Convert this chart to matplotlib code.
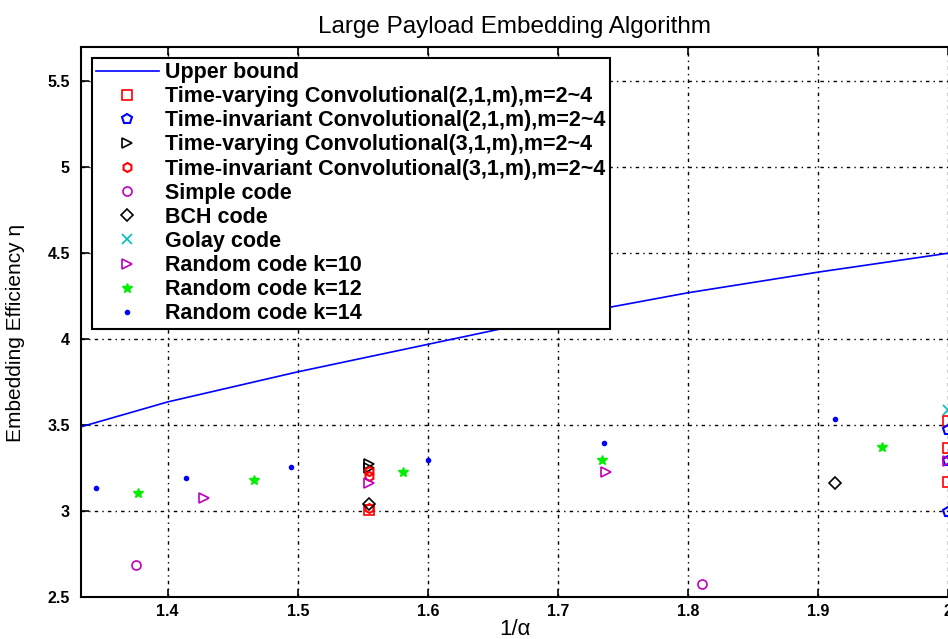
# Large payload embedding - efficiency vs 1/alpha
import numpy as np
import matplotlib
matplotlib.use("Agg")
import matplotlib.pyplot as plt

plt.rcParams['font.family'] = ['Liberation Sans', 'DejaVu Sans']

# upper bound
ub_x = [1.3333, 1.4, 1.5, 1.6, 1.7, 1.75, 1.8, 1.9, 2.0]
ub_y = [3.49, 3.635, 3.81, 3.97, 4.13, 4.20, 4.27, 4.39, 4.50]

# time-varying convolutional (2,1,m)
tv21_x = [1.555, 2.0, 2.0, 2.0]
tv21_y = [3.005, 3.526, 3.365, 3.17]
# time-invariant convolutional (2,1,m)
ti21_x = [2.0, 2.0, 2.0]
ti21_y = [3.473, 3.29, 2.995]
# time-varying convolutional (3,1,m)
tv31_x = [1.555, 1.555]
tv31_y = [3.272, 3.25]
# time-invariant convolutional (3,1,m)
ti31_x = [1.555, 1.555, 1.555]
ti31_y = [3.235, 3.205, 3.02]
# simple code
simple_x = [1.376, 1.811]
simple_y = [2.686, 2.577]
# BCH code
bch_x = [1.555, 1.913]
bch_y = [3.04, 3.162]
# Golay code
golay_x = [2.0]
golay_y = [3.589]
# random codes
r10_x = [1.428, 1.555, 1.737, 2.0]
r10_y = [3.074, 3.165, 3.23, 3.29]
r12_x = [1.377, 1.466, 1.581, 1.734, 1.949]
r12_y = [3.107, 3.18, 3.228, 3.30, 3.371]
r14_x = [1.345, 1.4137, 1.495, 1.6005, 1.7357, 1.913]
r14_y = [3.137, 3.19, 3.254, 3.30, 3.394, 3.536]

fig = plt.figure(figsize=(9.48, 6.39), dpi=100)
ax = fig.add_axes([81/948, 42/639, 867/948, 550/639])

ms = 6.5
ax.plot(ub_x, ub_y, 'b-', lw=1.2, label='Upper bound')
ax.plot(tv21_x, tv21_y, 's', mfc='none', mec='r', ms=ms, mew=1.2, ls='none',
        label='Time-varying Convolutional(2,1,m),m=2~4')
ax.plot(ti21_x, ti21_y, 'p', mfc='none', mec='b', ms=ms + 1, mew=1.5, ls='none',
        label='Time-invariant Convolutional(2,1,m),m=2~4')
ax.plot(tv31_x, tv31_y, '>', mfc='none', mec='k', ms=ms, mew=1.2, ls='none',
        label='Time-varying Convolutional(3,1,m),m=2~4')
ax.plot(ti31_x, ti31_y, 'h', mfc='none', mec='r', ms=ms, mew=1.5, ls='none',
        label='Time-invariant Convolutional(3,1,m),m=2~4')
ax.plot(simple_x, simple_y, 'o', mfc='none', mec='m', ms=ms, mew=1.2, ls='none',
        label='Simple code')
ax.plot(bch_x, bch_y, 'D', mfc='none', mec='k', ms=ms - 0.5, mew=1.2, ls='none',
        label='BCH code')
ax.plot(golay_x, golay_y, 'x', color='c', ms=ms, mew=1.2, ls='none',
        label='Golay code')
ax.plot(r10_x, r10_y, '>', mfc='none', mec='m', ms=ms + 1, mew=1.2, ls='none',
        label='Random code k=10')
ax.plot(r12_x, r12_y, '*', color='#00ee00', ms=ms + 1, mew=1.0, ls='none',
        label='Random code k=12')
ax.plot(r14_x, r14_y, '.', color='b', ms=ms - 0.5, ls='none',
        label='Random code k=14')

ax.set_xlim(4/3, 2.0)
ax.set_ylim(2.5, 5.7)
ax.set_xticks([1.4, 1.5, 1.6, 1.7, 1.8, 1.9, 2.0])
ax.set_xticklabels(['1.4', '1.5', '1.6', '1.7', '1.8', '1.9', '2'])
ax.set_yticks([2.5, 3, 3.5, 4, 4.5, 5, 5.5])
ax.set_yticklabels(['2.5', '3', '3.5', '4', '4.5', '5', '5.5'])
ax.tick_params(direction='in', top=True, right=False, length=6, width=1.2,
               labelsize=11.5)
ax.tick_params(axis='x', pad=5)
ax.tick_params(axis='y', pad=8)
for lab in ax.get_xticklabels() + ax.get_yticklabels():
    lab.set_fontweight('bold')
ax.grid(True, color='k', lw=1.0, linestyle=(0, (2.5, 3, 1, 3)))
for s in ['left', 'bottom', 'top']:
    ax.spines[s].set_linewidth(1.5)
ax.spines['right'].set_visible(False)

ax.set_title('Large Payload Embedding Algorithm', fontsize=17.5, pad=10)
ax.set_xlabel('1/α', fontsize=16, labelpad=0)
ax.set_ylabel('Embedding Efficiency η', fontsize=15, labelpad=4)
ax.yaxis.set_label_coords(-0.065, 0.48)

leg = ax.legend(loc='upper left', frameon=True, fancybox=False,
                prop={'size': 15.5, 'weight': 'bold'},
                edgecolor='k', framealpha=1, borderaxespad=0.5,
                handlelength=2.9, labelspacing=0.145, borderpad=0.2,
                handletextpad=0.3, numpoints=1)
leg.get_frame().set_linewidth(1.5)

fig.savefig('out.png', dpi=100)
